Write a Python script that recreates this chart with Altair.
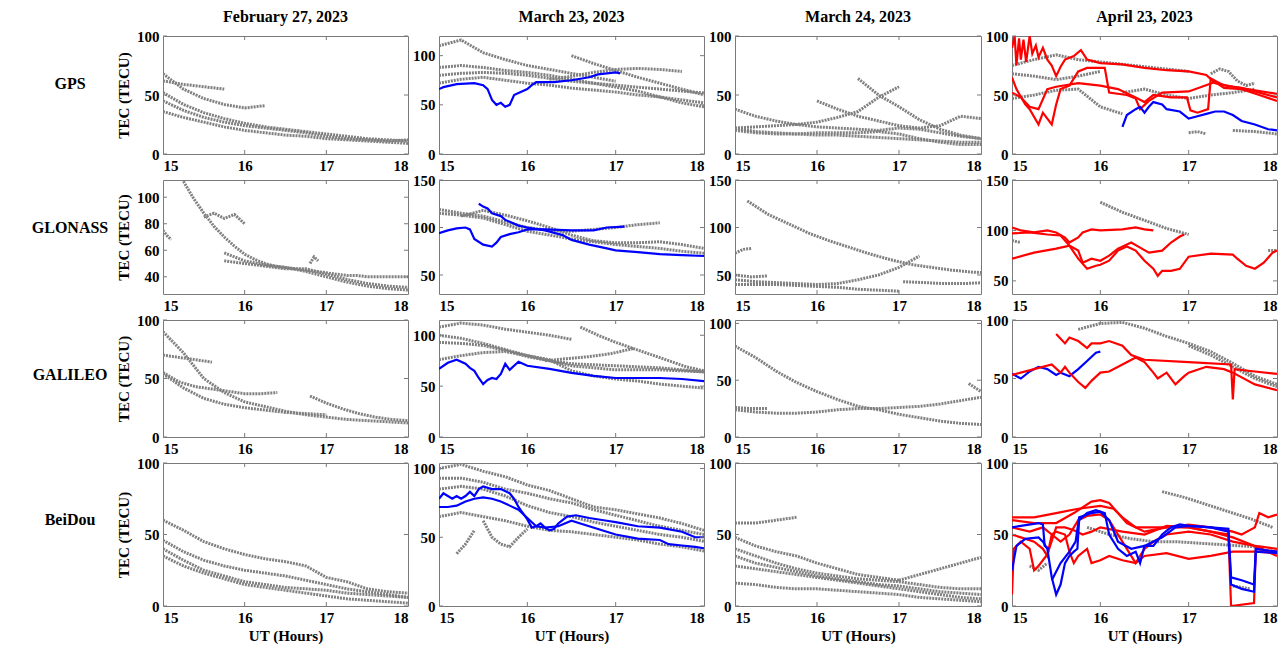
import altair as alt
import pandas as pd

FONT = "Liberation Serif"
GREY = "#808080"
BLUE = "#0000ff"
RED = "#ff0000"
FRAME = "#7a7a7a"

DATES = ["February 27, 2023", "March 23, 2023", "March 24, 2023", "April 23, 2023"]
SYSTEMS = ["GPS", "GLONASS", "GALILEO", "BeiDou"]
X_TICKS = [15, 16, 17, 18]

Y_DOMAINS = [
    [[0, 100], [0, 120], [0, 100], [0, 100]],
    [[27, 113], [30, 150], [30, 150], [37, 150]],
    [[0, 100], [0, 115], [0, 103], [0, 100]],
    [[0, 100], [0, 104], [0, 100], [0, 100]],
]
Y_TICKS = [
    [[0, 50, 100]] * 4,
    [[40, 60, 80, 100], [50, 100, 150], [50, 100, 150], [50, 100, 150]],
    [[0, 50, 100]] * 4,
    [[0, 50, 100]] * 4,
]

# ---- grey satellite tracks: (start hour, step hour, TEC values) ----
GREY_GPS = [
    [(15.0, .25, [62, 59, 57, 55]),
     (15.0, .25, [68, 55, 47, 42, 39, 41]),
     (15.0, .25, [52, 42, 35, 30, 26, 23, 21, 19, 17, 15, 13, 12, 11]),
     (15.0, .25, [36, 31, 27, 23, 20, 18, 16, 15, 13, 12, 11, 10, 9]),
     (15.0, .25, [45, 37, 31, 27, 24, 22, 20, 18, 15, 13, 12, 11, 12])],
    [(15.0, .25, [110, 116, 103, 96, 90, 86, 82, 78, 74]),
     (15.0, .25, [88, 90, 88, 85, 83, 80, 76, 72, 68, 64, 58, 52, 48]),
     (15.0, .25, [80, 82, 83, 82, 80, 77, 74, 72, 70, 68, 66, 64, 62]),
     (15.0, .25, [72, 76, 78, 75, 72, 70, 67, 65, 63, 60, 58, 55, 52]),
     (16.5, .25, [100, 92, 85, 78, 72, 66, 60]),
     (16.25, .25, [76, 79, 83, 86, 87, 86, 84])],
    [(15.0, .25, [38, 32, 28, 25, 23, 22, 21, 20, 22, 21, 18, 15, 13]),
     (15.0, .25, [22, 23, 24, 25, 27, 31, 36, 48, 57]),
     (16.5, .25, [64, 50, 40, 29, 21, 16, 13]),
     (16.0, .25, [45, 38, 32, 28, 24, 22, 24, 32, 30]),
     (15.0, .25, [22, 19, 18, 17, 16, 16, 15, 14, 13, 12, 11, 10, 10]),
     (15.0, .25, [20, 18, 17, 17, 18, 18, 18, 19, 17, 13, 10, 8, 8])],
    [(15.0, .25, [75, 80, 84, 80, 78, 76, 74, 72, 70]),
     (15.0, .25, [68, 66, 63, 66, 70]),
     (15.0, .25, [47, 50, 54, 55, 40, 34]),
     (16.25, .25, [52, 55, 50, 47, 50, 52, 55]),
     (17.0, .1, [18, 19, 17]),
     (17.5, .25, [20, 19, 17]),
     (17.25, .1, [68, 72, 70, 62, 58, 60])],
]
GREY_GLONASS = [
    [(15.0, .05, [75, 71, 68]),
     (15.25, .125, [112, 99, 88, 78, 70, 63, 57, 53, 50, 48, 47, 46, 45, 44, 43, 42,
                    41, 41, 40, 40, 40, 40, 40]),
     (15.5, .125, [85, 88, 84, 87, 80]),
     (15.75, .25, [52, 50, 48, 46, 46, 42, 38, 35, 33, 32]),
     (16.8, .05, [50, 55, 52]),
     (15.75, .25, [58, 52, 49, 47, 44, 40, 36, 33, 31, 30])],
    [(15.0, .25, [119, 115, 112, 106, 100, 97, 96, 98, 100, 103, 105]),
     (15.25, .25, [112, 118, 113, 107, 100, 92, 86, 84, 84, 85, 82, 78]),
     (15.0, .25, [115, 113, 110, 103, 96, 92, 88, 85, 82, 80, 78, 75, 73])],
    [(15.15, .25, [128, 114, 104, 94, 86, 79, 72, 66, 61, 58, 55, 53, 52]),
     (15.0, .1, [73, 77, 78]),
     (15.0, .2, [50, 48, 49]),
     (15.0, .25, [45, 43, 42, 41, 40, 41, 45, 50, 58, 70]),
     (15.0, .25, [40, 40, 40, 39, 38, 37, 35, 34, 33]),
     (17.05, .25, [43, 42, 41, 41, 42])],
    [(16.0, .25, [128, 118, 110, 102, 96]),
     (15.0, .1, [90, 88]),
     (17.9, .1, [80, 80])],
]
GREY_GALILEO = [
    [(15.0, .25, [90, 72, 50, 38, 30, 26, 22, 19, 17, 15, 14, 13, 12]),
     (15.0, .2, [70, 68, 66, 64]),
     (15.0, .2, [55, 47, 43, 41, 39, 37, 37, 38]),
     (15.0, .25, [54, 42, 33, 28, 25, 23, 21, 20, 19]),
     (16.8, .2, [35, 29, 24, 20, 17, 15, 14])],
    [(15.0, .25, [108, 112, 110, 106, 103, 100, 96]),
     (15.0, .25, [100, 97, 92, 86, 80, 75, 70, 68, 66, 66, 66, 65, 64]),
     (15.0, .25, [93, 92, 90, 85, 79, 75, 72, 71, 70, 69, 68, 66, 64]),
     (15.0, .25, [76, 80, 83, 84, 80, 76, 65, 60, 57, 55, 52, 50, 48]),
     (16.6, .2, [108, 100, 93, 87, 81, 75, 69, 65]),
     (16.2, .25, [75, 77, 79, 82, 87])],
    [(15.0, .25, [80, 70, 58, 48, 40, 33, 27, 24, 20, 17, 14, 12, 11]),
     (15.0, .2, [26, 25, 25]),
     (15.0, .25, [24, 22, 21, 21, 22, 24, 25, 25, 26, 27, 29, 32, 35]),
     (17.85, .15, [47, 40])],
    [(15.75, .25, [92, 97, 98, 93, 86, 80, 73, 63, 52, 45]),
     (17.0, .25, [78, 70, 60, 50, 43])],
]
GREY_BEIDOU = [
    [(15.0, .25, [60, 53, 45, 40, 36, 33, 31, 28, 20, 17, 12, 10, 9]),
     (15.0, .25, [46, 38, 32, 28, 25, 23, 21, 18, 15, 12, 10, 8, 6]),
     (15.0, .25, [40, 32, 25, 21, 17, 15, 13, 12, 11, 9, 8, 7, 6]),
     (15.0, .25, [35, 28, 23, 19, 15, 13, 11, 9, 7, 5, 4, 3, 2])],
    [(15.0, .25, [100, 103, 98, 94, 88, 84, 78, 72, 70, 67, 64, 60, 55]),
     (15.0, .25, [93, 93, 90, 85, 82, 78, 75, 70, 66, 62, 58, 55, 52]),
     (15.0, .25, [85, 87, 85, 80, 73, 68, 65, 61, 58, 55, 52, 50, 47]),
     (15.5, .1, [62, 50, 45, 43, 50, 56]),
     (15.2, .1, [38, 45, 55]),
     (15.0, .25, [65, 68, 65, 62, 58, 55, 54, 52, 50, 48, 45, 43, 40])],
    [(15.0, .25, [58, 58, 60, 62]),
     (15.0, .25, [48, 42, 38, 35, 30, 26, 22, 20, 18]),
     (17.0, .25, [18, 22, 26, 30, 34]),
     (15.0, .25, [40, 35, 30, 26, 23, 21, 19, 18, 17, 15, 13, 12, 12]),
     (15.0, .25, [35, 30, 27, 24, 21, 19, 17, 15, 14, 12, 10, 9, 8]),
     (15.0, .25, [28, 26, 24, 22, 20, 18, 16, 14, 12, 10, 8, 6, 5]),
     (15.0, .25, [16, 15, 13, 12, 12, 11, 10, 9, 8, 6, 5, 4, 3])],
    [(16.7, .25, [80, 76, 71, 66, 61, 55]),
     (15.85, .25, [55, 50, 47, 45, 45, 44, 43, 42, 41]),
     (15.2, .1, [28, 25, 30]),
     (17.5, .1, [14, 13, 12])],
]
GREY_TRACKS = [GREY_GPS, GREY_GLONASS, GREY_GALILEO, GREY_BEIDOU]

# ---- highlighted tracks: (colour, hours, TEC values) ----
COLOR_TRACKS = {
    (0, 1): [
        ("blue", [15.0, 15.05, 15.2, 15.4, 15.5, 15.55, 15.6, 15.65, 15.7, 15.75, 15.8, 15.85,
                  15.9, 16.0, 16.05, 16.1, 16.3, 16.5, 16.7, 16.8, 17.0, 17.05],
         [66, 68, 71, 72, 70, 66, 55, 50, 52, 48, 50, 60, 62, 66, 70, 73, 73, 75, 78, 81, 83, 82]),
    ],
    (0, 3): [
        ("red", [15.0, 15.03, 15.05, 15.08, 15.1, 15.13, 15.16, 15.2, 15.23, 15.27, 15.3, 15.35,
                 15.4, 15.45, 15.5, 15.55, 15.6, 15.7, 15.78, 15.85, 16.0, 16.25, 16.5, 16.75,
                 17.0, 17.2, 17.3, 17.5, 17.75, 18.0],
         [90, 100, 75, 98, 80, 97, 78, 100, 85, 92, 82, 90, 80, 75, 66, 74, 80, 83, 88, 80,
          77, 76, 73, 71, 70, 67, 60, 57, 54, 51]),
        ("red", [15.0, 15.05, 15.15, 15.2, 15.3, 15.35, 15.4, 15.45, 15.5, 15.55, 15.65, 15.75,
                 15.85, 16.05, 16.1, 16.3, 16.4, 16.45, 16.55, 16.7, 17.0, 17.15, 17.3, 17.4,
                 17.6, 17.8, 18.0],
         [65, 55, 42, 38, 25, 35, 30, 25, 42, 55, 58, 70, 73, 73, 52, 50, 47, 38, 45, 52, 53,
          57, 61, 56, 55, 50, 45]),
        ("red", [15.0, 15.1, 15.2, 15.3, 15.4, 15.5, 15.75, 16.0, 16.2, 16.4, 16.5, 16.6, 16.8,
                 16.98, 17.02, 17.1, 17.22, 17.25, 17.4, 17.6, 17.8, 18.0],
         [52, 48, 40, 38, 55, 57, 60, 58, 55, 48, 44, 50, 48, 48, 37, 35, 38, 64, 58, 56, 52, 48]),
        ("blue", [16.25, 16.3, 16.4, 16.45, 16.5, 16.55, 16.6, 16.7, 16.75, 16.9, 17.0, 17.1,
                  17.2, 17.3, 17.4, 17.5, 17.6, 17.75, 17.9, 18.0],
         [23, 33, 38, 40, 35, 40, 44, 42, 38, 36, 30, 32, 34, 36, 36, 33, 28, 25, 21, 20]),
    ],
    (1, 1): [
        ("blue", [15.45, 15.5, 15.55, 15.6, 15.7, 15.75, 15.8, 15.9, 16.0, 16.2, 16.4, 16.5,
                  16.7, 16.9, 17.0, 17.25, 17.5, 17.75, 18.0],
         [125, 122, 120, 115, 112, 108, 106, 102, 100, 97, 92, 87, 82, 78, 76, 74, 72, 71, 70]),
        ("blue", [15.0, 15.1, 15.2, 15.3, 15.35, 15.4, 15.5, 15.6, 15.65, 15.7, 15.8, 15.9,
                  16.0, 16.2, 16.5, 16.75, 16.9, 17.1],
         [94, 97, 99, 100, 98, 88, 82, 80, 84, 90, 93, 95, 98, 98, 97, 97, 100, 101]),
    ],
    (1, 3): [
        ("red", [15.0, 15.1, 15.25, 15.4, 15.5, 15.6, 15.65, 15.75, 15.8, 15.9, 16.0, 16.25,
                 16.4, 16.5, 16.6],
         [103, 100, 98, 100, 98, 93, 88, 93, 98, 101, 100, 101, 103, 101, 100]),
        ("red", [15.0, 15.2, 15.4, 15.55, 15.65, 15.75, 15.85, 15.95, 16.0, 16.1, 16.2, 16.3,
                 16.4, 16.5, 16.6, 16.65, 16.7, 16.8, 16.9, 17.0, 17.25, 17.5, 17.55, 17.65,
                 17.75, 17.85, 17.95, 18.0],
         [97, 98, 96, 95, 85, 72, 62, 65, 66, 70, 80, 84, 80, 70, 62, 55, 60, 60, 62, 74, 77,
          76, 72, 65, 62, 68, 78, 80]),
        ("red", [15.0, 15.25, 15.5, 15.65, 15.75, 15.8, 15.9, 16.0, 16.1, 16.2, 16.35, 16.45,
                 16.55, 16.7, 16.8, 16.9, 16.95],
         [72, 78, 82, 85, 80, 68, 72, 70, 75, 82, 88, 83, 78, 80, 88, 94, 96]),
    ],
    (2, 1): [
        ("blue", [15.0, 15.1, 15.2, 15.3, 15.35, 15.4, 15.45, 15.5, 15.55, 15.6, 15.65, 15.7,
                  15.75, 15.8, 15.9, 16.0, 16.25, 16.5, 16.75, 17.0, 17.25, 17.5, 17.75, 18.0],
         [67, 73, 76, 72, 68, 65, 58, 52, 56, 58, 57, 62, 72, 66, 74, 70, 67, 63, 60, 58, 58,
          58, 57, 55]),
    ],
    (2, 3): [
        ("blue", [15.0, 15.1, 15.15, 15.2, 15.3, 15.4, 15.5, 15.55, 15.65, 15.75, 15.85, 15.95,
                  16.0],
         [54, 50, 53, 56, 60, 58, 53, 55, 52, 58, 65, 72, 73]),
        ("red", [15.0, 15.25, 15.45, 15.55, 15.6, 15.65, 15.75, 15.83, 15.9, 16.0, 16.1, 16.25,
                 16.4, 16.5, 16.6, 16.65, 16.75, 16.85, 16.95, 17.0, 17.2, 17.4, 17.5, 17.75, 18.0],
         [53, 58, 62, 55, 60, 55, 47, 42, 48, 55, 56, 62, 68, 64, 55, 50, 55, 45, 52, 55, 60,
          58, 55, 45, 40]),
        ("red", [15.5, 15.6, 15.65, 15.75, 15.85, 15.9, 16.0, 16.1, 16.25, 16.35, 16.5, 17.0,
                 17.48, 17.5, 17.52, 17.75, 18.0],
         [88, 80, 85, 82, 76, 80, 80, 82, 78, 70, 66, 64, 62, 32, 58, 56, 54]),
    ],
    (3, 1): [
        ("blue", [15.0, 15.05, 15.1, 15.15, 15.2, 15.25, 15.3, 15.35, 15.4, 15.45, 15.5, 15.6,
                  15.7, 15.8, 15.85, 15.9, 16.0, 16.05, 16.1, 16.15, 16.2, 16.25, 16.3, 16.35,
                  16.45, 16.55, 16.7, 16.9, 17.0, 17.25, 17.5, 17.75, 17.9, 18.0],
         [78, 82, 80, 78, 80, 78, 80, 83, 80, 85, 87, 85, 85, 82, 78, 72, 63, 57, 58, 60, 57,
          55, 56, 60, 65, 66, 64, 62, 61, 58, 57, 54, 50, 50]),
        ("blue", [15.0, 15.1, 15.2, 15.3, 15.4, 15.5, 15.6, 15.7, 15.8, 15.9, 16.0, 16.1, 16.2,
                  16.35, 16.5, 16.6, 16.8, 17.0, 17.25, 17.5, 17.6, 17.75, 17.9, 18.0],
         [72, 72, 73, 76, 78, 79, 78, 76, 73, 70, 64, 58, 57, 58, 62, 60, 56, 52, 49, 48, 45,
          44, 43, 42]),
    ],
    (3, 3): [
        ("red", [15.0, 15.25, 15.5, 15.75, 16.0, 16.15, 16.25, 16.4, 16.5, 16.75, 17.0, 17.25,
                 17.5, 17.75, 18.0],
         [62, 62, 65, 68, 70, 68, 62, 55, 55, 55, 55, 52, 48, 42, 40]),
        ("red", [15.0, 15.25, 15.5, 15.7, 15.9, 16.0, 16.1, 16.2, 16.3, 16.5, 16.75, 17.0,
                 17.25, 17.5, 17.6, 17.75, 17.8, 17.9, 18.0],
         [60, 58, 58, 65, 73, 74, 72, 65, 58, 52, 55, 57, 55, 52, 50, 55, 65, 62, 64]),
        ("red", [15.0, 15.02, 15.1, 15.2, 15.25, 15.3, 15.4, 15.5, 15.6, 15.7, 15.8, 15.9, 16.0,
                 16.25, 16.5, 16.75, 17.0, 17.25, 17.45, 17.48, 17.74, 17.76, 18.0],
         [8, 40, 45, 40, 25, 28, 36, 55, 55, 53, 50, 52, 55, 52, 50, 56, 55, 52, 50, 0, 2, 40, 38]),
        ("red", [15.0, 15.1, 15.25, 15.35, 15.4, 15.45, 15.5, 15.6, 15.65, 15.7, 15.75, 15.85,
                 15.9, 16.0, 16.1, 16.25, 16.4, 16.5, 16.75, 17.0, 17.25, 17.5, 17.75, 18.0],
         [50, 48, 45, 40, 35, 50, 52, 50, 38, 30, 35, 40, 30, 32, 35, 32, 30, 35, 37, 33, 35,
          38, 38, 37]),
        ("red", [15.0, 15.2, 15.35, 15.45, 15.55, 15.65, 15.75, 15.85, 16.0, 16.1, 16.2, 16.3,
                 16.4, 16.5, 16.6, 16.75, 17.0, 17.25, 17.5, 17.75, 18.0],
         [55, 52, 55, 50, 45, 50, 60, 63, 64, 60, 50, 40, 30, 40, 45, 50, 52, 50, 45, 42, 35]),
        ("blue", [15.0, 15.1, 15.3, 15.35, 15.37, 15.42],
         [55, 56, 58, 57, 42, 40]),
        ("blue", [15.0, 15.05, 15.15, 15.3, 15.35, 15.4, 15.45, 15.5, 15.55, 15.6, 15.65, 15.7,
                  15.74, 15.76, 15.85, 15.95, 16.05, 16.1, 16.2, 16.3, 16.4, 16.45, 16.5, 16.6,
                  16.7, 16.8, 16.9, 17.0, 17.25, 17.45, 17.48, 17.6, 17.74, 17.76, 18.0],
         [25, 42, 47, 48, 45, 40, 20, 8, 15, 30, 35, 38, 40, 60, 65, 67, 65, 50, 40, 35, 38, 30,
          42, 42, 50, 55, 57, 56, 55, 54, 20, 18, 15, 40, 38]),
        ("blue", [15.45, 15.55, 15.65, 15.72, 15.76, 15.9, 16.0, 16.1, 16.2, 16.35, 16.5, 16.7,
                  16.85, 17.0, 17.25, 17.45, 17.48, 17.6, 17.74, 17.76, 18.0],
         [18, 30, 38, 45, 62, 65, 66, 60, 45, 40, 42, 48, 55, 56, 55, 52, 15, 12, 10, 38, 37]),
    ],
}

WIDTHS = [245, 265, 246, 265]
HEIGHTS = [118, 114, 117, 143]
ROW_LABEL_Y = [48, 48, 55, 57]
TICK_LEN = 4

# ---- build one long table ----
rows = []
for r in range(4):
    for c in range(4):
        for k, (t0, dt, vals) in enumerate(GREY_TRACKS[r][c]):
            for i, v in enumerate(vals):
                rows.append({"panel": f"{r}{c}", "series": f"g{k}", "kind": "grey",
                             "t": round(t0 + i * dt, 4), "v": v})
        for k, (col, ts, vs) in enumerate(COLOR_TRACKS.get((r, c), [])):
            for t, v in zip(ts, vs):
                rows.append({"panel": f"{r}{c}", "series": f"c{k}", "kind": col, "t": t, "v": v})
df = pd.DataFrame(rows)


def panel(r, c):
    w, h = WIDTHS[c], HEIGHTS[r]
    sub = df[df.panel == f"{r}{c}"]
    xs = alt.Scale(domain=[15, 18], nice=False, zero=False)
    ys = alt.Scale(domain=Y_DOMAINS[r][c], nice=False, zero=False)
    xa = alt.Axis(values=X_TICKS, format="d", labelOverlap=False,
                  title="UT (Hours)" if r == 3 else None)
    ya = alt.Axis(values=Y_TICKS[r][c], format="d", labelOverlap=False,
                  title="TEC (TECU)" if c == 0 else None)
    x = alt.X("t:Q", scale=xs, axis=xa)
    y = alt.Y("v:Q", scale=ys, axis=ya)
    layers = [
        alt.Chart(sub[sub.kind == "grey"]).mark_line(
            color=GREY, strokeWidth=3, strokeDash=[2, 1], clip=True
        ).encode(x=x, y=y, detail="series:N")
    ]
    colored = sub[sub.kind != "grey"]
    if len(colored):
        layers.append(
            alt.Chart(colored).mark_line(strokeWidth=2.2, clip=True).encode(
                x=x, y=y, detail="series:N",
                color=alt.Color("kind:N", scale=alt.Scale(domain=["blue", "red"],
                                                          range=[BLUE, RED]), legend=None))
        )
    # inward tick marks (MATLAB style) on all four sides
    xt = pd.DataFrame({"t": X_TICKS[1:-1]})
    yt = pd.DataFrame({"v": Y_TICKS[r][c]})
    tick = dict(color=FRAME, strokeWidth=1)
    layers += [
        alt.Chart(xt).mark_rule(**tick).encode(
            x=x, y=alt.value(h), y2=alt.value(h - TICK_LEN)),
        alt.Chart(xt).mark_rule(**tick).encode(
            x=x, y=alt.value(0), y2=alt.value(TICK_LEN)),
        alt.Chart(yt).mark_rule(**tick).encode(
            y=y, x=alt.value(0), x2=alt.value(TICK_LEN)),
        alt.Chart(yt).mark_rule(**tick).encode(
            y=y, x=alt.value(w), x2=alt.value(w - TICK_LEN)),
    ]
    if c == 0:
        layers.append(
            alt.Chart(pd.DataFrame({"s": [SYSTEMS[r]]})).mark_text(
                font=FONT, fontSize=16, fontWeight="bold", color="black", align="center",
                baseline="middle"
            ).encode(x=alt.value(-93), y=alt.value(ROW_LABEL_Y[r]), text="s:N")
        )
    if r == 0:
        layers.append(
            alt.Chart(pd.DataFrame({"s": [DATES[c]]})).mark_text(
                font=FONT, fontSize=16, fontWeight="bold", color="black", align="center",
                baseline="middle"
            ).encode(x=alt.value(w / 2), y=alt.value(-19), text="s:N")
        )
    return alt.layer(*layers).properties(width=w, height=h)


chart = alt.concat(
    *[panel(r, c) for r in range(4) for c in range(4)],
    columns=4, spacing={"row": 26, "column": 31}, bounds="flush", align="each"
).resolve_scale(x="independent", y="independent").properties(
    padding={"left": 23, "top": 0, "right": 0, "bottom": 0}
).configure_view(
    stroke=FRAME, strokeWidth=1
).configure_axis(
    labelFont=FONT, labelFontSize=15, labelFontWeight="bold", labelColor="black",
    titleFont=FONT, titleFontSize=15, titleFontWeight="bold", titleColor="black",
    domain=False, ticks=False, grid=False, labelPadding=4
).configure_axisY(titlePadding=5).configure_axisX(titlePadding=3)

chart.save("out.html", embed_options={"renderer": "svg", "actions": False})
